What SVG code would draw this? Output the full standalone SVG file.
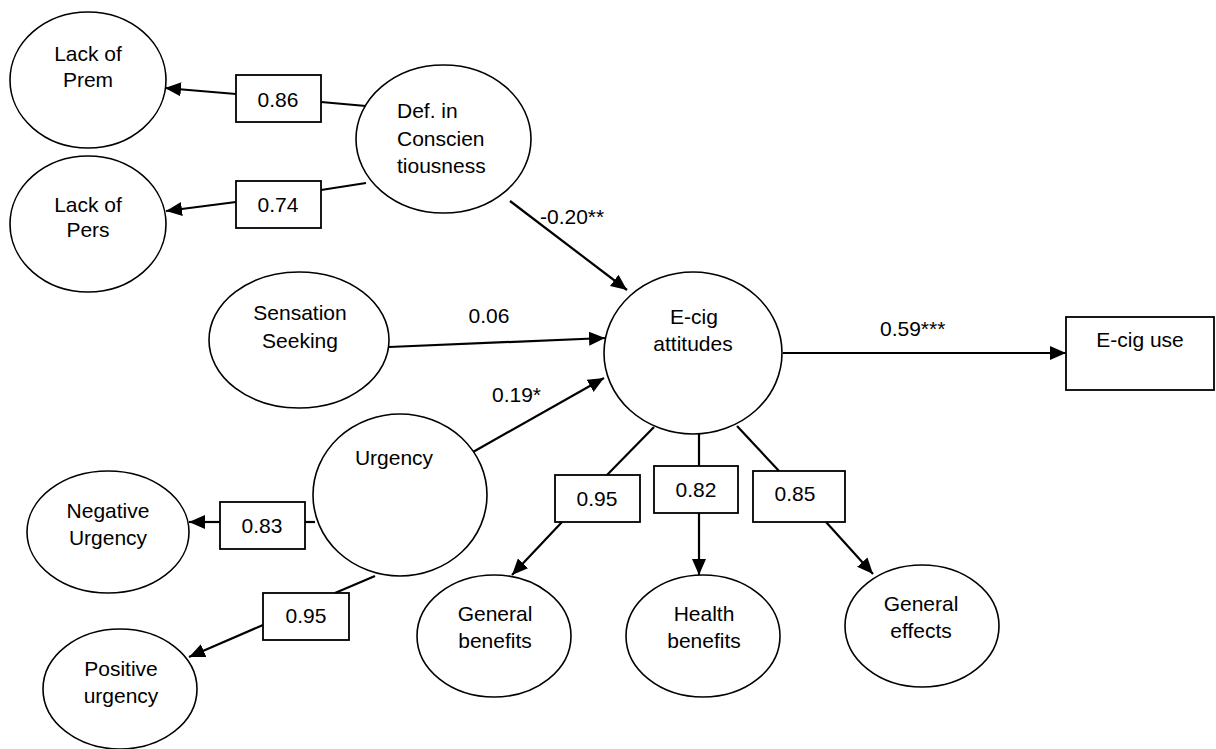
<svg xmlns="http://www.w3.org/2000/svg" width="1216" height="749" viewBox="0 0 1216 749">
<style>
  .node { fill: #fff; stroke: #000; stroke-width: 1.6; }
  .box { fill: #fff; stroke: #000; stroke-width: 1.8; }
  .lbl { font-family: "Liberation Sans", Arial, sans-serif; font-size: 21px; fill: #000; }
  .c { text-anchor: middle; }
  .edge { stroke: #000; stroke-width: 2.2; fill: none; }
</style>
<defs>
  <marker id="arr" markerUnits="userSpaceOnUse" markerWidth="18" markerHeight="16" refX="16" refY="7" orient="auto">
    <path d="M0,0 L16,7 L0,14 Z" fill="#000"/>
  </marker>
</defs>
<rect width="1216" height="749" fill="#fff"/>

<g id="connectors">
  <line class="edge" x1="366" y1="106" x2="321" y2="102"/>
  <line class="edge" x1="236" y1="94" x2="165" y2="88" marker-end="url(#arr)"/>
  <line class="edge" x1="366" y1="183" x2="321" y2="190"/>
  <line class="edge" x1="236" y1="202" x2="166" y2="211" marker-end="url(#arr)"/>
  <line class="edge" x1="510" y1="201" x2="627" y2="290" marker-end="url(#arr)"/>
  <line class="edge" x1="389" y1="347" x2="605" y2="338" marker-end="url(#arr)"/>
  <line class="edge" x1="473" y1="452" x2="604" y2="378" marker-end="url(#arr)"/>
  <line class="edge" x1="315" y1="522" x2="305" y2="522"/>
  <line class="edge" x1="220" y1="522" x2="189" y2="522" marker-end="url(#arr)"/>
  <line class="edge" x1="375" y1="576" x2="335" y2="593"/>
  <line class="edge" x1="263" y1="625" x2="189" y2="657" marker-end="url(#arr)"/>
  <line class="edge" x1="783" y1="353" x2="1066" y2="353" marker-end="url(#arr)"/>
  <line class="edge" x1="654" y1="427" x2="607" y2="475"/>
  <line class="edge" x1="562" y1="522" x2="512" y2="575" marker-end="url(#arr)"/>
  <line class="edge" x1="699" y1="434" x2="699" y2="466"/>
  <line class="edge" x1="699" y1="513" x2="699" y2="575" marker-end="url(#arr)"/>
  <line class="edge" x1="737" y1="426" x2="779" y2="471"/>
  <line class="edge" x1="826" y1="522" x2="873" y2="574" marker-end="url(#arr)"/>
</g>

<g id="edge-labels">
  <text class="lbl" x="540" y="224">-0.20**</text>
  <text class="lbl c" x="489" y="323">0.06</text>
  <text class="lbl" x="492" y="402">0.19*</text>
  <text class="lbl" x="880" y="336">0.59***</text>
</g>

<g id="box-086">
  <rect class="box" x="236" y="75" width="85" height="47"/>
  <text class="lbl c" x="278" y="107">0.86</text>
</g>
<g id="box-074">
  <rect class="box" x="236" y="181" width="85" height="47"/>
  <text class="lbl c" x="278" y="212">0.74</text>
</g>
<g id="box-083">
  <rect class="box" x="220" y="502" width="85" height="47"/>
  <text class="lbl c" x="262" y="533">0.83</text>
</g>
<g id="box-095u">
  <rect class="box" x="263" y="593" width="86" height="47"/>
  <text class="lbl c" x="306" y="623">0.95</text>
</g>
<g id="box-095">
  <rect class="box" x="555" y="475" width="85" height="47"/>
  <text class="lbl c" x="597" y="506">0.95</text>
</g>
<g id="box-082">
  <rect class="box" x="654" y="466" width="84" height="47"/>
  <text class="lbl c" x="696" y="497">0.82</text>
</g>
<g id="box-085">
  <rect class="box" x="753" y="471" width="92" height="51"/>
  <text class="lbl c" x="795" y="501">0.85</text>
</g>

<g id="lack-prem">
  <ellipse class="node" cx="88" cy="80" rx="78" ry="68"/>
  <text class="lbl c" x="88" y="61">Lack of</text>
  <text class="lbl c" x="88" y="87">Prem</text>
</g>
<g id="lack-pers">
  <ellipse class="node" cx="88" cy="224" rx="78" ry="68"/>
  <text class="lbl c" x="88" y="212">Lack of</text>
  <text class="lbl c" x="88" y="237">Pers</text>
</g>
<g id="def-consc">
  <ellipse class="node" cx="443.5" cy="139" rx="87.5" ry="74"/>
  <text class="lbl" x="397" y="118">Def. in</text>
  <text class="lbl" x="397" y="146">Conscien</text>
  <text class="lbl" x="397" y="173">tiousness</text>
</g>
<g id="sensation">
  <ellipse class="node" cx="299" cy="340" rx="90" ry="68"/>
  <text class="lbl c" x="300" y="320">Sensation</text>
  <text class="lbl c" x="300" y="348">Seeking</text>
</g>
<g id="urgency">
  <ellipse class="node" cx="400" cy="495" rx="87" ry="81"/>
  <text class="lbl c" x="394" y="465">Urgency</text>
</g>
<g id="neg-urgency">
  <ellipse class="node" cx="108" cy="532" rx="81" ry="61"/>
  <text class="lbl c" x="108" y="518">Negative</text>
  <text class="lbl c" x="108" y="545">Urgency</text>
</g>
<g id="pos-urgency">
  <ellipse class="node" cx="120" cy="689" rx="77" ry="60"/>
  <text class="lbl c" x="121" y="676">Positive</text>
  <text class="lbl c" x="121" y="703">urgency</text>
</g>
<g id="ecig-attitudes">
  <ellipse class="node" cx="693" cy="353" rx="89" ry="81"/>
  <text class="lbl c" x="694" y="324">E-cig</text>
  <text class="lbl c" x="693" y="351">attitudes</text>
</g>
<g id="ecig-use">
  <rect class="box" x="1066" y="317" width="148" height="73"/>
  <text class="lbl c" x="1140" y="347">E-cig use</text>
</g>
<g id="general-benefits">
  <ellipse class="node" cx="494" cy="636" rx="77" ry="61"/>
  <text class="lbl c" x="495" y="621">General</text>
  <text class="lbl c" x="495" y="648">benefits</text>
</g>
<g id="health-benefits">
  <ellipse class="node" cx="703" cy="636" rx="77" ry="61"/>
  <text class="lbl c" x="704" y="621">Health</text>
  <text class="lbl c" x="704" y="648">benefits</text>
</g>
<g id="general-effects">
  <ellipse class="node" cx="922" cy="626" rx="77" ry="61"/>
  <text class="lbl c" x="921" y="611">General</text>
  <text class="lbl c" x="921" y="638">effects</text>
</g>
</svg>
